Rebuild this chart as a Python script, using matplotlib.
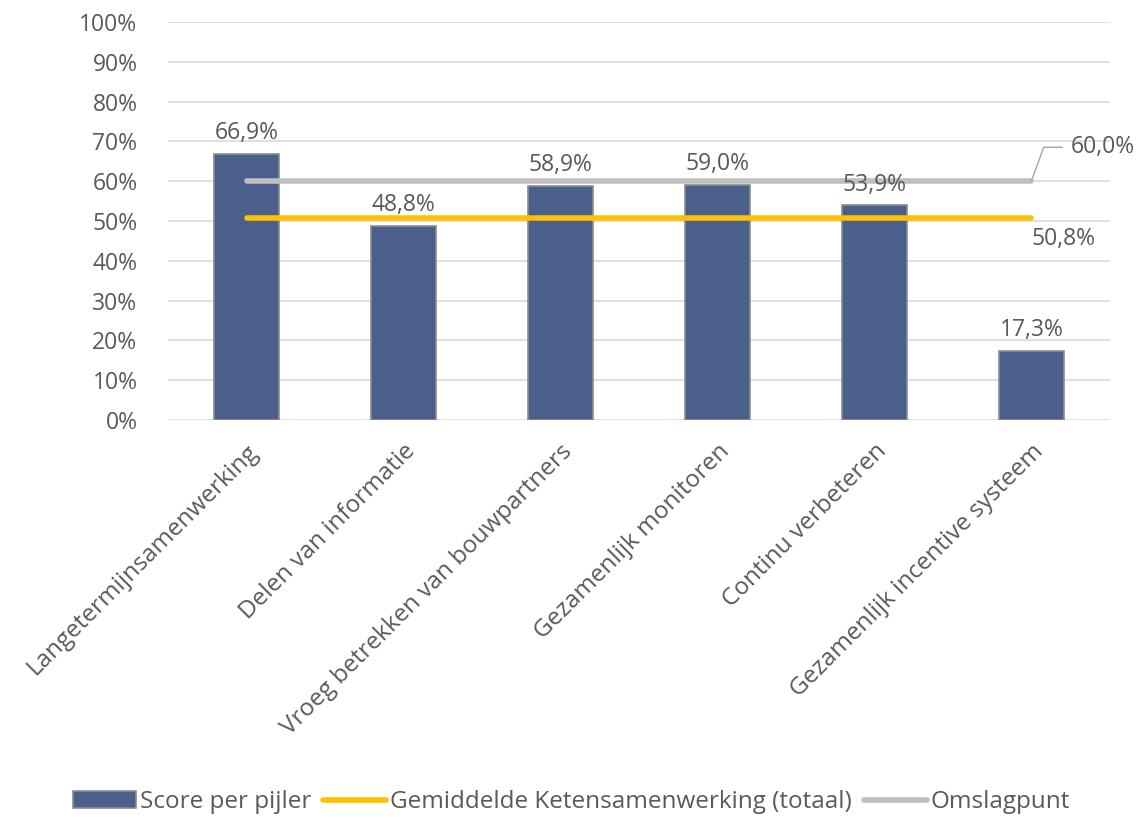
import matplotlib
matplotlib.use("Agg")
import matplotlib.pyplot as plt
import numpy as np

categories = ["Langetermijnsamenwerking", "Delen van informatie",
              "Vroeg betrekken van bouwpartners", "Gezamenlijk monitoren",
              "Continu verbeteren", "Gezamenlijk incentive systeem"]
scores = [66.9, 48.8, 58.9, 59.0, 53.9, 17.3]
gemiddelde = [50.8] * 6
omslagpunt = [60.0] * 6
yticks = list(range(0, 101, 10))

plt.rcParams['font.family'] = ['Open Sans', 'DejaVu Sans']
txt = '#595959'
fs = 16.5

fig = plt.figure(figsize=(11.43, 8.18), dpi=100)
ax = fig.add_axes([0.147, 0.4866, 0.824, 0.4866])

x = np.arange(len(categories))
bars = ax.bar(x, scores, width=0.41, color='#4A5F8C', edgecolor='#8C8C8C',
              linewidth=1.2, zorder=2, label='Score per pijler')
ax.plot(x, gemiddelde, color='#FFC000', lw=4, solid_capstyle='round', zorder=3,
        label='Gemiddelde Ketensamenwerking (totaal)')
ax.plot(x, omslagpunt, color='#BFBFBF', lw=4, solid_capstyle='round', zorder=3,
        label='Omslagpunt')

for xi, v in zip(x, scores):
    ax.text(xi, v + 2.2, f"{v:.1f}%".replace('.', ','), ha='center', va='bottom',
            fontsize=fs, color=txt, zorder=4)

ax.annotate(f"{omslagpunt[-1]:.1f}%".replace('.', ','), xy=(x[-1], omslagpunt[-1]),
            xytext=(x[-1] + 0.25, omslagpunt[-1] + 8.5), fontsize=fs, color=txt,
            va='center', ha='left',
            arrowprops=dict(arrowstyle='-', color='#A6A6A6', lw=1,
                            connectionstyle='angle,angleA=0,angleB=70,rad=0',
                            shrinkA=4, shrinkB=0))
ax.text(x[-1] + 0.0, gemiddelde[-1] - 2.3, f"{gemiddelde[-1]:.1f}%".replace('.', ','),
        ha='left', va='top', fontsize=fs, color=txt)

ax.set_xlim(-0.5, len(categories) - 0.5)
ax.set_ylim(0, 100)
ax.set_yticks(yticks)
ax.set_yticklabels([f"{t}%" for t in yticks], fontsize=fs, color=txt)
ax.set_xticks(x)
ax.set_xticklabels(categories, rotation=45, ha='right', rotation_mode='anchor',
                   fontsize=17.5, color=txt)
ax.tick_params(axis='y', length=0, pad=22)
ax.tick_params(axis='x', length=0, pad=14)
ax.grid(axis='y', color='#D9D9D9', lw=1.2, zorder=0)
ax.set_axisbelow(True)
for s in ax.spines.values():
    s.set_visible(False)

handles, labels = ax.get_legend_handles_labels()
order = [2, 0, 1]
fig.legend([handles[i] for i in order], [labels[i] for i in order], loc='center',
           bbox_to_anchor=(0.5, 0.019), ncol=3,
           frameon=False, fontsize=17.5, labelcolor=txt, handlelength=2.6,
           handletextpad=0.15, columnspacing=0.5)

fig.savefig("out.png", dpi=100)
